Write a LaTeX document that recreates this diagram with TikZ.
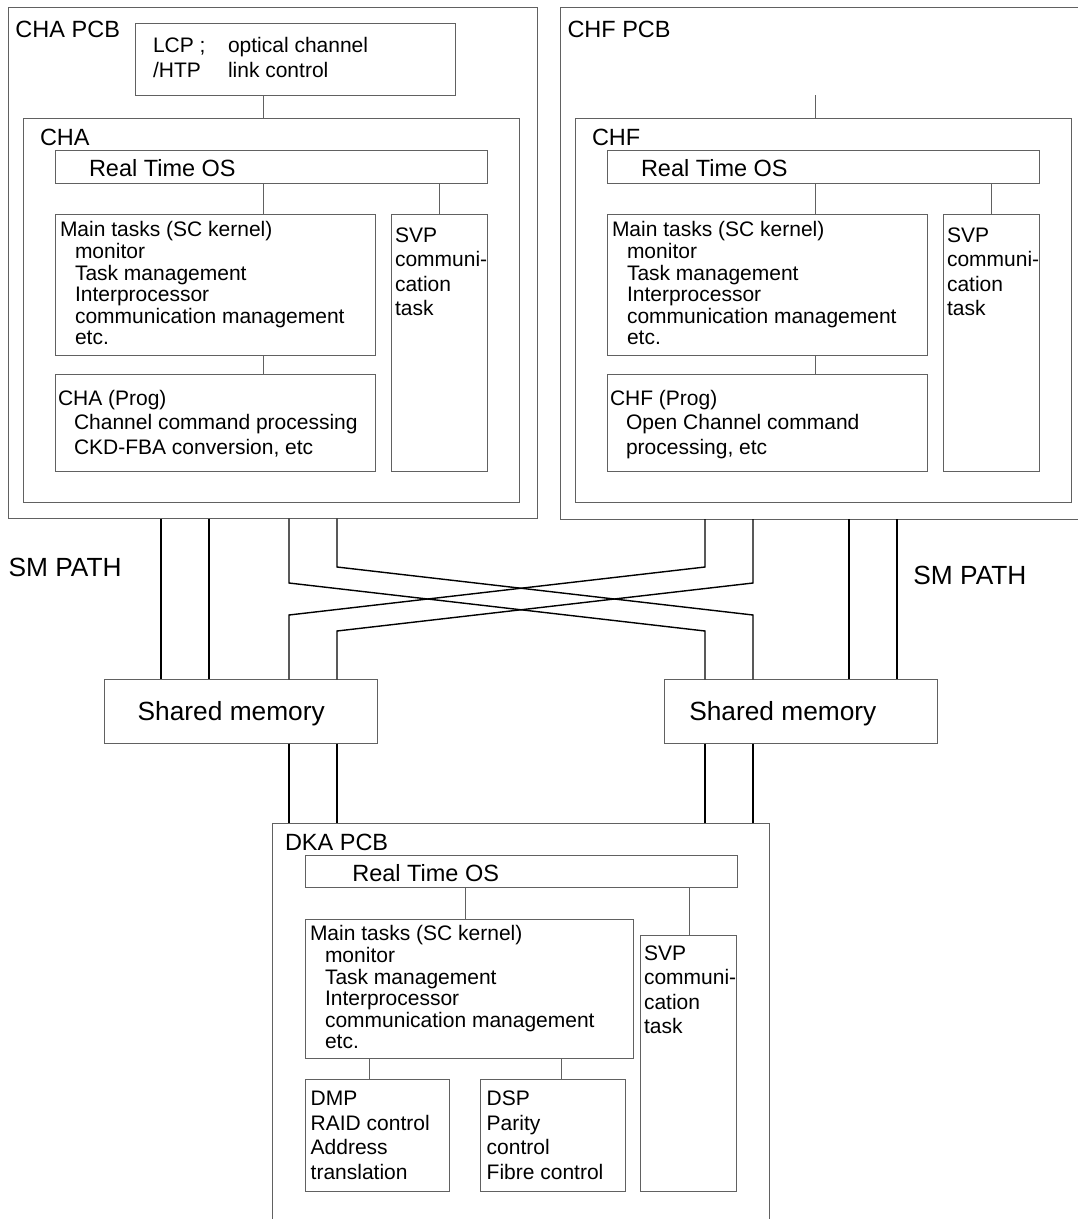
\documentclass[tikz,border=0pt]{standalone}
\usepackage{fontspec}
\setmainfont{Liberation Sans}
% \boxnode{name}{x1}{y1}{x2}{y2}: empty framed node between two corners
\newcommand\boxnode[5]{\node[pcbbox,minimum width={(#4-#2)*1pt},minimum height={(#5-#3)*1pt}] (#1) at (#2,#3) {};}
\begin{document}
% multi-line labels are placed by the baseline of their last line
\begin{tikzpicture}[x=1pt,y=-1pt,
  pcbbox/.style={draw=black!62, line width=1pt, rectangle, inner sep=0pt, outer sep=0pt, anchor=north west},
  wire/.style={draw=black!62, line width=1pt},
  smline/.style={draw=black, line width=1.4pt},
  tx/.style={anchor=base west, inner sep=0pt, outer sep=0pt, align=left},
  txhead/.style={tx, font=\fontsize{23.5}{28}\selectfont},
  txbody/.style={tx, font=\fontsize{21}{21.6}\selectfont},
  txloose/.style={tx, font=\fontsize{21}{24.4}\selectfont},
  txlcp/.style={tx, font=\fontsize{21}{25}\selectfont},
  txbig/.style={tx, font=\fontsize{26.3}{30}\selectfont}]
\useasboundingbox (0,0) rectangle (1078,1219);

% ---------------- CHA board ----------------
\boxnode{chapcb}{8.5}{7}{537}{518.5}
\boxnode{lcp}{135}{23}{455}{95}
\boxnode{cha}{23}{118.3}{519.3}{502.7}
\boxnode{chaos}{55}{150.7}{487.3}{183}
\boxnode{chamain}{55}{214.5}{375.3}{355}
\boxnode{chasvp}{391}{214.5}{487.3}{471}
\boxnode{chaprog}{55}{374.3}{375.3}{471}

\node[txhead] (chapcbT) at (15.5,37.5) {CHA PCB};
\node[txlcp] (lcpA) at (153,77.5) {LCP ;\\/HTP};
\node[txlcp] (lcpB) at (228,77.5) {optical channel\\link control};
\node[txhead] (chaT) at (40,145.4) {CHA};
\node[txhead] (chaosT) at (89,176.4) {Real Time OS};
\node[txbody] (chamainT) at (60,344.8) {Main tasks (SC kernel)\\
  \hspace*{15pt}monitor\\
  \hspace*{15pt}Task management\\
  \hspace*{15pt}Interprocessor\\
  \hspace*{15pt}communication management\\
  \hspace*{15pt}etc.};
\node[txloose] (chasvpT) at (395,315.7) {SVP\\communi-\\cation\\task};
\node[txloose] (chaprogT) at (58,454) {CHA (Prog)\\
  \hspace*{16pt}Channel command processing\\
  \hspace*{16pt}CKD-FBA conversion, etc};

\draw[wire] (263,0 |- lcp.south) -- (263,0 |- cha.north);
\draw[wire] (263,0 |- chaos.south) -- (263,0 |- chamain.north);
\draw[wire] (439,0 |- chaos.south) -- (439,0 |- chasvp.north);
\draw[wire] (263,0 |- chamain.south) -- (263,0 |- chaprog.north);

% ---------------- CHF board ----------------
\boxnode{chfpcb}{560.6}{7}{1089}{519}
\boxnode{chf}{575}{118.3}{1071.3}{502.7}
\boxnode{chfos}{607}{150.7}{1039.3}{183}
\boxnode{chfmain}{607}{214.5}{927.3}{355}
\boxnode{chfsvp}{943}{214.5}{1039.3}{471}
\boxnode{chfprog}{607}{374.3}{927.3}{471}

\node[txhead] (chfpcbT) at (567.5,37.5) {CHF PCB};
\node[txhead] (chfT) at (592,145.4) {CHF};
\node[txhead] (chfosT) at (641,176.4) {Real Time OS};
\node[txbody] (chfmainT) at (612,344.8) {Main tasks (SC kernel)\\
  \hspace*{15pt}monitor\\
  \hspace*{15pt}Task management\\
  \hspace*{15pt}Interprocessor\\
  \hspace*{15pt}communication management\\
  \hspace*{15pt}etc.};
\node[txloose] (chfsvpT) at (947,315.7) {SVP\\communi-\\cation\\task};
\node[txloose] (chfprogT) at (610,454) {CHF (Prog)\\
  \hspace*{16pt}Open Channel command\\
  \hspace*{16pt}processing, etc};

\coordinate (chfup) at (815,95);
\draw[wire] (chfup) -- (chfup |- chf.north);
\draw[wire] (815,0 |- chfos.south) -- (815,0 |- chfmain.north);
\draw[wire] (991,0 |- chfos.south) -- (991,0 |- chfsvp.north);
\draw[wire] (815,0 |- chfmain.south) -- (815,0 |- chfprog.north);

% ---------------- shared memories ----------------
\boxnode{smL}{104.7}{679.3}{377.8}{743.7}
\boxnode{smR}{664.2}{679.3}{937.4}{743.7}
\node[txbig] (smLT) at (137.7,720) {Shared memory};
\node[txbig] (smRT) at (689.3,720) {Shared memory};
\node[txbig] (pathL) at (8.6,576) {SM PATH};
\node[txbig] (pathR) at (913.4,584.4) {SM PATH};

% ---------------- DKA board ----------------
\boxnode{dkapcb}{272.7}{823.3}{769.3}{1240}
\boxnode{dkaos}{305}{855.7}{737.3}{887.7}
\boxnode{dkamain}{305}{919}{633.7}{1058.3}
\boxnode{dkasvp}{640.7}{935.3}{736.7}{1191.7}
\boxnode{dmp}{305}{1079.3}{449.3}{1191.7}
\boxnode{dsp}{480.7}{1079.3}{625}{1191.7}

\node[txhead] (dkapcbT) at (285,850) {DKA PCB};
\node[txhead] (dkaosT) at (352.3,881.7) {Real Time OS};
\node[txbody] (dkamainT) at (310,1048.8) {Main tasks (SC kernel)\\
  \hspace*{15pt}monitor\\
  \hspace*{15pt}Task management\\
  \hspace*{15pt}Interprocessor\\
  \hspace*{15pt}communication management\\
  \hspace*{15pt}etc.};
\node[txloose] (dkasvpT) at (644,1033.4) {SVP\\communi-\\cation\\task};
\node[txloose] (dmpT) at (310.7,1179) {DMP\\RAID control\\Address\\translation};
\node[txloose] (dspT) at (486.7,1179) {DSP\\Parity\\control\\Fibre control};

\draw[wire] (465,0 |- dkaos.south) -- (465,0 |- dkamain.north);
\draw[wire] (689,0 |- dkaos.south) -- (689,0 |- dkasvp.north);
\draw[wire] (369,0 |- dkamain.south) -- (369,0 |- dmp.north);
\draw[wire] (561,0 |- dkamain.south) -- (561,0 |- dsp.north);

% ---------------- SM paths ----------------
\draw[smline] (161,0 |- chapcb.south) -- (161,0 |- smL.north);
\draw[smline] (209,0 |- chapcb.south) -- (209,0 |- smL.north);
\draw[smline] (849,0 |- chfpcb.south) -- (849,0 |- smR.north);
\draw[smline] (897,0 |- chfpcb.south) -- (897,0 |- smR.north);
\draw[smline] (289,0 |- chapcb.south) -- (289,583) -- (705,631) -- (705,0 |- smR.north);
\draw[smline] (337,0 |- chapcb.south) -- (337,567) -- (753,615) -- (753,0 |- smR.north);
\draw[smline] (705,0 |- chfpcb.south) -- (705,567) -- (289,615) -- (289,0 |- smL.north);
\draw[smline] (753,0 |- chfpcb.south) -- (753,583) -- (337,631) -- (337,0 |- smL.north);
\draw[smline] (289,0 |- smL.south) -- (289,0 |- dkapcb.north);
\draw[smline] (337,0 |- smL.south) -- (337,0 |- dkapcb.north);
\draw[smline] (705,0 |- smR.south) -- (705,0 |- dkapcb.north);
\draw[smline] (753,0 |- smR.south) -- (753,0 |- dkapcb.north);
\end{tikzpicture}
\end{document}
